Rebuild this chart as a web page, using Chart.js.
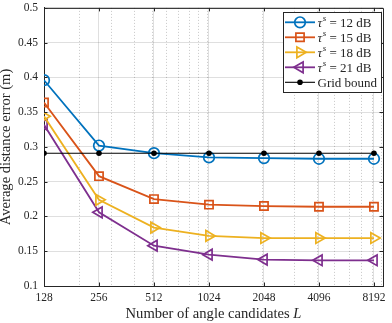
<!DOCTYPE html>
<html>
<head>
<meta charset="utf-8">
<script src="https://cdn.jsdelivr.net/npm/chart.js@4.4.1/dist/chart.umd.min.js"></script>
<style>
  html, body { margin: 0; padding: 0; background: #fff; }
  #wrap { width: 392px; height: 323px; }
</style>
</head>
<body>
<div id="wrap"><canvas id="chart"></canvas></div>
<script>
// number of angle candidates L (log2 axis)
const candidates = [128, 256, 512, 1024, 2048, 4096, 8192];
const snrDb = [12, 15, 18, 21];

// average distance error (m)
const err12dB = [0.396, 0.302, 0.291, 0.285, 0.284, 0.283, 0.283];
const err15dB = [0.364, 0.258, 0.225, 0.217, 0.215, 0.214, 0.214];
const err18dB = [0.344, 0.224, 0.184, 0.172, 0.169, 0.169, 0.169];
const err21dB = [0.332, 0.206, 0.158, 0.145, 0.138, 0.137, 0.137];
const gridBound = [0.291, 0.291, 0.291, 0.291, 0.291, 0.291, 0.291];

// minor log grid lines
const minorX = [200, 300, 400, 500, 600, 700, 800, 900, 1000, 2000, 3000, 4000, 5000, 6000, 7000, 8000, 9000];

const FONT = "'Liberation Serif', 'Times New Roman', serif";
const INK = "#262626";
const GRID = "rgba(38,38,38,0.15)";
const MINOR = "rgba(38,38,38,0.25)";

const series = [
  { values: err12dB, color: "#0072BD", pointStyle: "circle", radius: 5.3, rotation: 0 },
  { values: err15dB, color: "#D95319", pointStyle: "rect", radius: 5.8, rotation: 0 },
  { values: err18dB, color: "#EDB120", pointStyle: "triangle", radius: 6.2, rotation: 90 },
  { values: err21dB, color: "#7E2F8E", pointStyle: "triangle", radius: 6.2, rotation: -90 },
];

const toPoints = (vals) => candidates.map((x, i) => ({ x, y: vals[i] }));

const datasets = series.map((s, i) => ({
  label: "τs = " + snrDb[i] + " dB",
  data: toPoints(s.values),
  borderColor: s.color,
  backgroundColor: "rgba(0,0,0,0)",
  borderWidth: 1.8,
  pointStyle: s.pointStyle,
  pointRadius: s.radius,
  pointRotation: s.rotation,
  pointBorderWidth: 1.7,
  pointBorderColor: s.color,
  pointBackgroundColor: "rgba(0,0,0,0)",
  tension: 0,
  order: i + 1,
}));

datasets.push({
  label: "Grid bound",
  data: toPoints(gridBound),
  borderColor: "#000",
  backgroundColor: "#000",
  borderWidth: 1.1,
  pointStyle: "circle",
  pointRadius: 2.8,
  pointBorderWidth: 0,
  pointBackgroundColor: "#000",
  order: 0,
});

function drawMarker(ctx, ds, x, y) {
  const r = ds.pointRadius;
  ctx.save();
  ctx.strokeStyle = ds.pointBorderColor || ds.borderColor;
  ctx.fillStyle = ds.pointBackgroundColor;
  ctx.lineWidth = ds.pointBorderWidth || 1;
  ctx.translate(x, y);
  ctx.rotate(((ds.pointRotation || 0) * Math.PI) / 180);
  ctx.beginPath();
  if (ds.pointStyle === "rect") {
    const h = r * Math.SQRT1_2;
    ctx.rect(-h, -h, 2 * h, 2 * h);
  } else if (ds.pointStyle === "triangle") {
    for (let k = 0; k < 3; k++) {
      const a = -Math.PI / 2 + (k * 2 * Math.PI) / 3;
      const px = r * Math.cos(a), py = r * Math.sin(a);
      k === 0 ? ctx.moveTo(px, py) : ctx.lineTo(px, py);
    }
    ctx.closePath();
  } else {
    ctx.arc(0, 0, r, 0, Math.PI * 2);
  }
  ctx.fill();
  if (ds.pointBorderWidth) ctx.stroke();
  ctx.restore();
}

const decorations = {
  id: "decorations",
  afterDraw(chart) {
    const { ctx, chartArea: a, scales } = chart;
    const xs = scales.x, ys = scales.y;
    ctx.save();

    // box (top / right)
    ctx.strokeStyle = INK;
    ctx.lineWidth = 1;
    ctx.beginPath();
    ctx.moveTo(a.left, a.top + 0.5);
    ctx.lineTo(a.right + 0.5, a.top + 0.5);
    ctx.lineTo(a.right + 0.5, a.bottom);
    ctx.stroke();

    // inward tick marks
    const tl = 3.5;
    ctx.beginPath();
    for (let v = 0.1; v <= 0.5001; v += 0.05) {
      const py = Math.round(ys.getPixelForValue(v)) + 0.5;
      ctx.moveTo(a.left, py); ctx.lineTo(a.left + tl, py);
      ctx.moveTo(a.right, py); ctx.lineTo(a.right - tl, py);
    }
    candidates.forEach((c) => {
      const px = Math.round(xs.getPixelForValue(c)) + 0.5;
      ctx.moveTo(px, a.bottom); ctx.lineTo(px, a.bottom - tl);
      ctx.moveTo(px, a.top); ctx.lineTo(px, a.top + tl);
    });
    ctx.stroke();

    // axis titles
    const tf = "14.6px " + FONT;
    ctx.fillStyle = INK;
    ctx.textBaseline = "middle";
    const xt1 = "Number of angle candidates ";
    ctx.font = tf;
    const w1 = ctx.measureText(xt1).width;
    ctx.font = "italic " + tf;
    const w2 = ctx.measureText("L").width;
    const sx = (a.left + a.right) / 2 - (w1 + w2) / 2;
    ctx.textAlign = "left";
    ctx.font = tf;
    ctx.fillText(xt1, sx, 314);
    ctx.font = "italic " + tf;
    ctx.fillText("L", sx + w1, 314);

    ctx.save();
    ctx.translate(6.5, (a.top + a.bottom) / 2);
    ctx.rotate(-Math.PI / 2);
    ctx.textAlign = "center";
    ctx.font = tf;
    ctx.fillText("Average distance error (m)", 0, 0);
    ctx.restore();

    // legend
    const lx = 283, ly = 12, lw = 98, lh = 80;
    ctx.fillStyle = "#fff";
    ctx.fillRect(lx, ly, lw, lh);
    ctx.strokeStyle = INK;
    ctx.lineWidth = 1;
    ctx.strokeRect(lx + 0.5, ly + 0.5, lw, lh);
    const rows = [22.3, 37.3, 52.3, 67.3, 82.3];
    chart.data.datasets.forEach((ds, i) => {
      const y = rows[i];
      ctx.strokeStyle = ds.borderColor;
      ctx.lineWidth = ds.borderWidth;
      ctx.beginPath();
      ctx.moveTo(285, y); ctx.lineTo(315, y);
      ctx.stroke();
      drawMarker(ctx, ds, 300, y);
      ctx.fillStyle = INK;
      ctx.textAlign = "left";
      ctx.textBaseline = "middle";
      let tx = 317.5;
      if (i < 4) {
        ctx.font = "italic 13px " + FONT;
        ctx.fillText("τ", tx, y + 1);
        tx += ctx.measureText("τ").width + 0.5;
        ctx.font = "italic 9px " + FONT;
        ctx.fillText("s", tx, y - 3.5);
        tx += ctx.measureText("s").width;
        ctx.font = "13px " + FONT;
        ctx.fillText(" = " + snrDb[i] + " dB", tx, y + 1);
      } else {
        ctx.font = "13px " + FONT;
        ctx.fillText("Grid bound", tx, y + 1);
      }
    });
    ctx.restore();
  },
};

new Chart(document.getElementById("chart"), {
  type: "line",
  data: { datasets },
  options: {
    responsive: true,
    maintainAspectRatio: false,
    animation: false,
    layout: { padding: { left: 0, right: 9, top: 5, bottom: 0 } },
    plugins: { legend: { display: false }, tooltip: { enabled: false } },
    scales: {
      x: {
        type: "logarithmic",
        min: 128,
        max: 9180,
        afterBuildTicks: (s) => {
          s.ticks = [...candidates, ...minorX].sort((p, q) => p - q).map((v) => ({ value: v }));
        },
        afterFit: (s) => {
          s.height = 37;
          s.paddingLeft = 0;
          s.paddingRight = 0;
        },
        ticks: {
          autoSkip: false,
          maxRotation: 0,
          padding: 5,
          color: INK,
          font: { family: FONT, size: 11.5 },
          callback: (v) => (candidates.includes(v) ? String(v) : ""),
        },
        grid: {
          drawTicks: false,
          lineWidth: 1,
          color: (c) => (c.tick && candidates.includes(c.tick.value) ? GRID : MINOR),
        },
        border: {
          color: INK,
          width: 1,
          dash: (c) => (c.tick && !candidates.includes(c.tick.value) ? [1, 2] : []),
        },
      },
      y: {
        min: 0.1,
        max: 0.5,
        afterFit: (s) => {
          s.width = 44;
          s.paddingTop = 0;
          s.paddingBottom = 0;
        },
        ticks: {
          stepSize: 0.05,
          padding: 6,
          color: INK,
          font: { family: FONT, size: 11.5 },
          callback: (v) => String(parseFloat(v.toFixed(2))),
        },
        grid: { drawTicks: false, color: GRID, lineWidth: 1 },
        border: { color: INK, width: 1 },
      },
    },
  },
  plugins: [decorations],
});
</script>
</body>
</html>
